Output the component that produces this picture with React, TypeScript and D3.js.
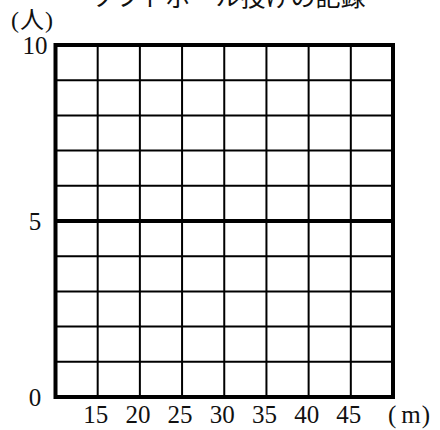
import React from "react";
import * as d3 from "d3";

const title = "ソフトボール投げの記録";
const xDomain = [10, 50];
const xTicks = [15, 20, 25, 30, 35, 40, 45];
const yDomain = [0, 10];
const yGrid = [1, 2, 3, 4, 6, 7, 8, 9];
const yMajor = [5];
const yLabels = [0, 5, 10];
const xUnit = "m";
const yUnit = "人";

const W = 440;
const H = 430;
const left = 55.5;
const right = 393;
const top = 45;
const bottom = 397;

export default function App() {
  const x = d3.scaleLinear().domain(xDomain).range([left, right]);
  const y = d3.scaleLinear().domain(yDomain).range([bottom, top]);
  const serif = "'Liberation Serif', 'DejaVu Serif', serif";
  const cjk = "'Noto Sans CJK JP', 'Noto Sans', sans-serif";
  return (
    <svg
      width={W}
      height={H}
      style={{ position: "absolute", left: 0, top: 0, display: "block", background: "#fff" }}
    >
      <rect x={0} y={0} width={W} height={H} fill="#fff" />
      <text x={228} y={6} fontSize={25} fontFamily={cjk} textAnchor="middle" fill="#111">
        {title}
      </text>
      {xTicks.map((t) => (
        <line key={"v" + t} x1={x(t)} x2={x(t)} y1={y(0)} y2={y(10)} stroke="#000" strokeWidth={2} />
      ))}
      {yGrid.map((t) => (
        <line key={"h" + t} x1={x(xDomain[0])} x2={x(xDomain[1])} y1={y(t)} y2={y(t)} stroke="#000" strokeWidth={2} />
      ))}
      {yMajor.map((t) => (
        <line key={"m" + t} x1={x(xDomain[0])} x2={x(xDomain[1])} y1={y(t)} y2={y(t)} stroke="#000" strokeWidth={4} />
      ))}
      <rect
        x={x(xDomain[0])}
        y={y(yDomain[1])}
        width={x(xDomain[1]) - x(xDomain[0])}
        height={y(yDomain[0]) - y(yDomain[1])}
        fill="none"
        stroke="#000"
        strokeWidth={4}
      />
      {yLabels.map((t) => (
        <text
          key={"yl" + t}
          x={35}
          y={y(t) + 8.5}
          fontSize={25}
          fontFamily={serif}
          textAnchor="middle"
          fill="#111"
        >
          {t}
        </text>
      ))}
      {xTicks.map((t) => (
        <text
          key={"xl" + t}
          x={x(t) - 2}
          y={423}
          fontSize={25}
          fontFamily={serif}
          textAnchor="middle"
          fill="#111"
        >
          {t}
        </text>
      ))}
      <text x={388} y={423} fontSize={25} fontFamily={serif} fill="#111">
        (
        <tspan dx={5}>{xUnit}</tspan>
        <tspan dx={1}>)</tspan>
      </text>
      <text x={11} y={28} fontSize={24} fontFamily={serif} fill="#111">
        (
        <tspan fontFamily={cjk} fontSize={24} dx={1}>{yUnit}</tspan>
        <tspan dx={1}>)</tspan>
      </text>
    </svg>
  );
}
